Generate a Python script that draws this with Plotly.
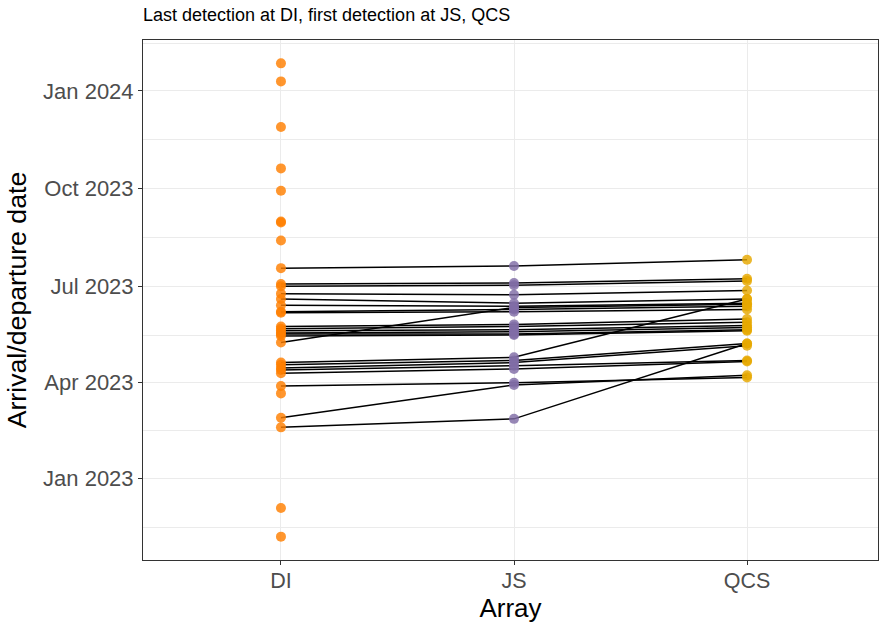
import plotly.graph_objects as go

arrays = ["DI", "JS", "QCS"]

# Fish detected at all three arrays: last DI, first JS, first QCS
fish_di = ["2023-07-18", "2023-07-03", "2023-07-01", "2023-06-24", "2023-06-19",
           "2023-06-13", "2023-06-07", "2023-06-06", "2023-05-24", "2023-05-22",
           "2023-05-20", "2023-05-18", "2023-05-17", "2023-05-15", "2023-05-09",
           "2023-04-20", "2023-04-18", "2023-04-15", "2023-04-13", "2023-04-10",
           "2023-03-29", "2023-02-27", "2023-02-18"]
fish_js = ["2023-07-20", "2023-07-04", "2023-07-02", "2023-06-23", "2023-06-15",
           "2023-06-12", "2023-06-09", "2023-06-07", "2023-05-26", "2023-05-24",
           "2023-05-21", "2023-05-19", "2023-05-17", "2023-05-16", "2023-06-11",
           "2023-04-25", "2023-04-22", "2023-04-20", "2023-04-17", "2023-04-14",
           "2023-04-01", "2023-03-30", "2023-02-26"]
fish_qcs = ["2023-07-26", "2023-07-08", "2023-07-06", "2023-06-27", "2023-06-19",
            "2023-06-15", "2023-06-12", "2023-06-09", "2023-05-31", "2023-05-28",
            "2023-05-25", "2023-05-23", "2023-05-21", "2023-05-20", "2023-06-14",
            "2023-06-19", "2023-05-08", "2023-05-06", "2023-04-22", "2023-04-21",
            "2023-04-06", "2023-04-08", "2023-05-08"]

# Last DI detections without later JS/QCS detection
di_only = ["2024-01-27", "2024-01-10", "2023-11-28", "2023-10-20", "2023-09-29",
           "2023-08-31", "2023-08-30", "2023-08-13", "2023-03-22", "2022-12-04",
           "2022-11-07"]

y_tickvals = ["2023-01-01", "2023-04-01", "2023-07-01", "2023-10-01", "2024-01-01"]
y_ticktext = ["Jan 2023", "Apr 2023", "Jul 2023", "Oct 2023", "Jan 2024"]
y_minor = ["2022-11-16", "2023-02-15", "2023-05-16", "2023-08-16", "2023-11-16", "2024-02-15"]
y_range = ["2022-10-16", "2024-02-18"]

colors = {"DI": "rgba(255,127,0,0.82)", "JS": "rgba(128,108,166,0.82)", "QCS": "rgba(230,168,0,0.82)"}

fig = go.Figure()
for a, b, c in zip(fish_di, fish_js, fish_qcs):
    fig.add_trace(go.Scatter(x=arrays, y=[a, b, c], mode="lines",
                             line=dict(color="black", width=1.5),
                             showlegend=False, hoverinfo="skip"))

fig.add_trace(go.Scatter(x=["DI"] * (len(fish_di) + len(di_only)), y=fish_di + di_only,
                         mode="markers", marker=dict(color=colors["DI"], size=10),
                         showlegend=False))
fig.add_trace(go.Scatter(x=["JS"] * len(fish_js), y=fish_js, mode="markers",
                         marker=dict(color=colors["JS"], size=10), showlegend=False))
fig.add_trace(go.Scatter(x=["QCS"] * len(fish_qcs), y=fish_qcs, mode="markers",
                         marker=dict(color=colors["QCS"], size=10), showlegend=False))

font = "Liberation Sans, Arial, sans-serif"
fig.update_layout(
    width=880, height=623,
    margin=dict(l=143, r=2, t=40, b=63),
    paper_bgcolor="white", plot_bgcolor="white",
    font=dict(family=font, color="black"),
    title=dict(text="Last detection at DI, first detection at JS, QCS",
               x=143 / 880, xanchor="left", y=1 - 15 / 623, yanchor="middle",
               xref="container", yref="container",
               font=dict(size=18, color="black")),
    xaxis=dict(type="category", categoryorder="array", categoryarray=arrays,
               range=[-0.592, 2.562], showgrid=True, gridcolor="#EBEBEB", gridwidth=1.1,
               ticks="outside", ticklen=4, tickcolor="#333333", tickwidth=1,
               ticklabelstandoff=-3,
               tickfont=dict(size=21.5, color="#4D4D4D"),
               title=dict(text="Array", font=dict(size=26, color="black"), standoff=4),
               showline=True, linecolor="#333333", linewidth=1, mirror=True,
               zeroline=False),
    yaxis=dict(type="date", range=y_range, tickvals=y_tickvals, ticktext=y_ticktext,
               showgrid=True, gridcolor="#EBEBEB", gridwidth=1.1,
               minor=dict(tickvals=y_minor, showgrid=True, gridcolor="#EBEBEB",
                          gridwidth=0.6, ticklen=0),
               ticks="outside", ticklen=4, tickcolor="#333333", tickwidth=1,
               tickfont=dict(size=22, color="#4D4D4D"),
               title=dict(text="Arrival/departure date", font=dict(size=26.7, color="black"),
                          standoff=8),
               showline=True, linecolor="#333333", linewidth=1, mirror=True,
               zeroline=False),
)

fig.write_html("out.html")
